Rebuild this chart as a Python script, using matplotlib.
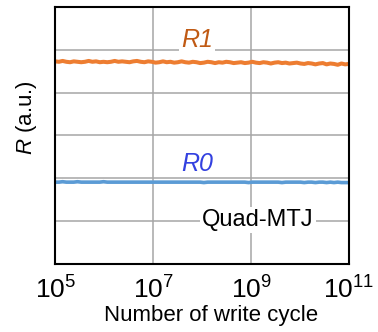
import numpy as np
import matplotlib
matplotlib.use("Agg")
import matplotlib.pyplot as plt

plt.rcParams['font.family'] = ['Liberation Sans', 'DejaVu Sans']
plt.rcParams['mathtext.fontset'] = 'custom'
plt.rcParams['mathtext.rm'] = 'Liberation Sans'
plt.rcParams['mathtext.it'] = 'Liberation Sans:italic'

# Resistance (a.u.) of the high state R1 over the write-cycle sweep
r1_values = [
    4.73, 4.72, 4.74, 4.72, 4.71, 4.73, 4.72, 4.71, 4.72, 4.74,
    4.72, 4.73, 4.71, 4.72, 4.71, 4.72, 4.74, 4.72, 4.73, 4.72,
    4.71, 4.73, 4.74, 4.72, 4.71, 4.73, 4.72, 4.70, 4.71, 4.73,
    4.71, 4.72, 4.70, 4.71, 4.73, 4.71, 4.70, 4.72, 4.71, 4.69,
    4.70, 4.72, 4.71, 4.69, 4.71, 4.70, 4.72, 4.71, 4.69, 4.70,
    4.71, 4.69, 4.70, 4.72, 4.70, 4.69, 4.71, 4.70, 4.68, 4.70,
    4.71, 4.69, 4.70, 4.68, 4.69, 4.70, 4.68, 4.67, 4.69, 4.68,
    4.66, 4.68, 4.69, 4.66, 4.68, 4.67, 4.65, 4.68, 4.66, 4.67,
]
# Resistance (a.u.) of the low state R0 over the same sweep
r0_values = [
    1.91, 1.91, 1.92, 1.91, 1.91, 1.91, 1.92, 1.91, 1.91, 1.91,
    1.91, 1.91, 1.91, 1.92, 1.91, 1.91, 1.91, 1.91, 1.91, 1.91,
    1.91, 1.91, 1.91, 1.91, 1.91, 1.91, 1.91, 1.91, 1.91, 1.91,
    1.91, 1.91, 1.91, 1.91, 1.91, 1.91, 1.91, 1.91, 1.91, 1.91,
    1.90, 1.91, 1.91, 1.91, 1.91, 1.91, 1.91, 1.91, 1.91, 1.91,
    1.91, 1.91, 1.90, 1.91, 1.91, 1.91, 1.91, 1.91, 1.91, 1.91,
    1.91, 1.90, 1.91, 1.91, 1.91, 1.91, 1.91, 1.90, 1.91, 1.91,
    1.90, 1.91, 1.91, 1.90, 1.91, 1.90, 1.91, 1.90, 1.90, 1.90,
]
cycle_start, cycle_end = 1e5, 1e11
x_ticks = [1e5, 1e7, 1e9, 1e11]
x_tick_labels = [r'$10^{5}$', r'$10^{7}$', r'$10^{9}$', r'$10^{11}$']

cycles_r1 = np.logspace(np.log10(cycle_start), np.log10(cycle_end), len(r1_values))
cycles_r0 = np.logspace(np.log10(cycle_start), np.log10(cycle_end), len(r0_values))

fig = plt.figure(figsize=(3.78, 3.32), dpi=100)
ax = fig.add_axes([0.146, 0.205, 0.777, 0.774])

ax.plot(cycles_r1, r1_values, color='#ED7D31', lw=2.9, zorder=3, solid_capstyle='round')
ax.plot(cycles_r0, r0_values, color='#5B9BD5', lw=2.6, zorder=3, solid_capstyle='round')

ax.set_xscale('log')
ax.set_xlim(cycle_start, cycle_end)
ax.set_ylim(0, 6)
ax.set_xticks(x_ticks)
ax.set_xticklabels(x_tick_labels)
ax.xaxis.set_minor_locator(matplotlib.ticker.NullLocator())
ax.set_yticks([1, 2, 3, 4, 5])
ax.set_yticklabels([])
ax.tick_params(axis='both', length=0, labelsize=19, pad=9)
ax.grid(True, color='#A6A6A6', lw=1.1, zorder=1)
for s in ax.spines.values():
    s.set_color('black')
    s.set_linewidth(1.5)
    s.set_zorder(4)

ax.set_xlabel('Number of write cycle', fontsize=16)
ax.xaxis.set_label_coords(0.53, -0.16)
ax.set_ylabel(r'$\mathit{R}$ (a.u.)', fontsize=16)
ax.yaxis.set_label_coords(-0.055, 0.57)

box = dict(facecolor='white', edgecolor='none', pad=1.5)
ax.text(10**7.9, 5.22, 'R1', color='#C05A14', fontsize=18, style='italic',
        ha='center', va='center', bbox=box, zorder=2)
ax.text(10**7.9, 2.33, 'R0', color='#3341E0', fontsize=18, style='italic',
        ha='center', va='center', zorder=2)
ax.text(10**9.14, 1.02, 'Quad-MTJ', color='black', fontsize=17,
        ha='center', va='center', bbox=box, zorder=2)

fig.savefig('out.png', dpi=100)
